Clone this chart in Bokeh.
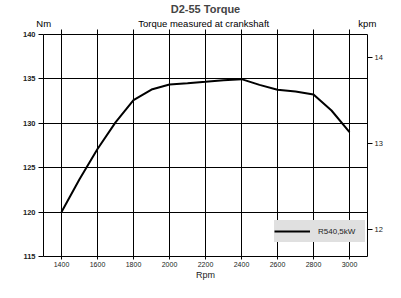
from bokeh.plotting import figure
from bokeh.models import LinearAxis, Range1d, FixedTicker
from bokeh.embed import file_html
from bokeh.resources import INLINE

# ---- data ----
rpm = [1400, 1500, 1600, 1700, 1800, 1900, 2000, 2100, 2200, 2300, 2400,
       2500, 2600, 2700, 2800, 2900, 3000]
torque_nm = [120.0, 123.7, 127.1, 130.1, 132.6, 133.8, 134.37, 134.5, 134.67,
             134.86, 134.97, 134.33, 133.77, 133.58, 133.24, 131.44, 129.0]
series_name = "R540,5kW"
x_ticks = [1400, 1600, 1800, 2000, 2200, 2400, 2600, 2800, 3000]
y_ticks = [115, 120, 125, 130, 135, 140]
kpm_ticks = [12, 13, 14]
title_text = "D2-55 Torque"
subtitle_text = "Torque measured at crankshaft"
left_unit = "Nm"
right_unit = "kpm"
x_title = "Rpm"

FONT = "Liberation Sans"

p = figure(width=385, height=282, x_range=(1300, 3100), y_range=(115, 140),
           output_backend="svg", toolbar_location=None,
           min_border_left=43, min_border_right=17,
           min_border_top=34, min_border_bottom=26,
           background_fill_color="white", border_fill_color="white")

p.outline_line_color = "black"
p.outline_line_width = 1

# grid
p.xgrid.ticker = FixedTicker(ticks=x_ticks)
p.ygrid.ticker = FixedTicker(ticks=y_ticks)
for g in (p.xgrid, p.ygrid):
    g.grid_line_color = "black"
    g.grid_line_width = 1
    g.grid_line_alpha = 1

# bottom axis
xa = p.xaxis[0]
xa.ticker = FixedTicker(ticks=x_ticks)
xa.axis_line_color = None
xa.major_tick_in = 0
xa.major_tick_out = 3
xa.minor_tick_line_color = None
xa.major_label_text_font = FONT
xa.major_label_text_font_size = "7px"
xa.major_label_text_color = "#222222"
xa.major_label_standoff = 2
xa.axis_label = x_title
xa.axis_label_text_font = FONT
xa.axis_label_text_font_size = "9px"
xa.axis_label_text_font_style = "normal"
xa.axis_label_text_color = "#222222"
xa.axis_label_standoff = 0

# left axis
ya = p.yaxis[0]
ya.ticker = FixedTicker(ticks=y_ticks)
ya.axis_line_color = None
ya.major_tick_in = 0
ya.major_tick_out = 5
ya.minor_tick_line_color = None
ya.major_label_text_font = FONT
ya.major_label_text_font_size = "7.5px"
ya.major_label_text_font_style = "bold"
ya.major_label_text_color = "#222222"
ya.major_label_standoff = 3

# top axis (ticks only)
ta = LinearAxis(ticker=FixedTicker(ticks=x_ticks))
ta.axis_line_color = None
ta.major_tick_in = 0
ta.major_tick_out = 5
ta.minor_tick_line_color = None
ta.major_label_text_font_size = "0px"
ta.major_label_text_alpha = 0
ta.major_label_standoff = 0
p.add_layout(ta, "above")

# top text row: unit names and subtitle
unit_pos = [1301, 2190, 3099]
tl = LinearAxis(ticker=FixedTicker(ticks=unit_pos))
tl.major_label_overrides = {unit_pos[0]: left_unit, unit_pos[1]: subtitle_text,
                            unit_pos[2]: right_unit}
tl.axis_line_color = None
tl.major_tick_line_color = None
tl.major_tick_in = 0
tl.major_tick_out = 0
tl.minor_tick_line_color = None
tl.major_label_text_font = FONT
tl.major_label_text_font_size = "9.5px"
tl.major_label_text_color = "black"
tl.major_label_standoff = 1
p.add_layout(tl, "above")

# right axis kpm
p.extra_y_ranges = {"kpm": Range1d(11.69, 14.265)}
ra = LinearAxis(y_range_name="kpm", ticker=FixedTicker(ticks=kpm_ticks))
ra.axis_line_color = None
ra.major_tick_in = 0
ra.major_tick_out = 5
ra.minor_tick_line_color = None
ra.major_label_text_font = FONT
ra.major_label_text_font_size = "7.5px"
ra.major_label_text_color = "#222222"
ra.major_label_standoff = 2
p.add_layout(ra, "right")

# curve
p.line(rpm, torque_nm, line_color="black", line_width=2, legend_label=series_name)

lg = p.legend[0]
lg.location = (231, 14)
lg.background_fill_color = "#e0e0e0"
lg.background_fill_alpha = 1
lg.border_line_color = None
lg.padding = 1
lg.margin = 0
lg.glyph_width = 36
lg.glyph_height = 22
lg.label_height = 22
lg.label_width = 47
lg.label_standoff = 8
lg.label_text_font = FONT
lg.label_text_font_size = "8px"
lg.label_text_color = "#222222"

# title
p.title.text = title_text
p.title.align = "center"
p.title.text_font = FONT
p.title.text_font_size = "11px"
p.title.text_font_style = "bold"
p.title.standoff = 0

open("out.html", "w").write(file_html(p, INLINE))
